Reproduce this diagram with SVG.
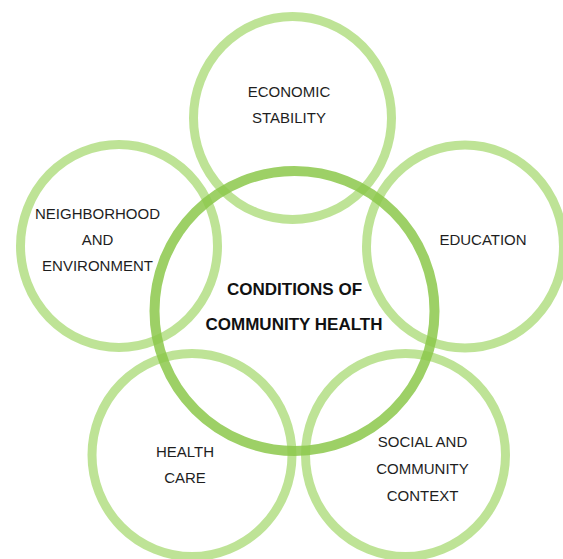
<svg xmlns="http://www.w3.org/2000/svg" width="563" height="559" viewBox="0 0 563 559">
  <style>
    .sat { fill: none; stroke: #92d050; stroke-opacity: 0.6; stroke-width: 9; }
    .core { fill: none; stroke: #8cc84b; stroke-opacity: 0.85; stroke-width: 10; }
    .lbl { font-family: "Liberation Sans", Arial, sans-serif; font-size: 15px; fill: #1e1e1e; text-anchor: middle; }
    .title { font-family: "Liberation Sans", Arial, sans-serif; font-size: 17px; font-weight: bold; fill: #111; text-anchor: middle; }
  </style>
  <rect width="563" height="559" fill="#ffffff"/>
  <g id="connectors"></g>
  <g id="economic-stability">
    <ellipse class="sat" cx="292.5" cy="118" rx="99" ry="101.5"/>
    <text class="lbl" x="289" y="96.5">ECONOMIC</text>
    <text class="lbl" x="289" y="123">STABILITY</text>
  </g>
  <g id="neighborhood-environment">
    <ellipse class="sat" cx="119" cy="246" rx="98.5" ry="101.5"/>
    <text class="lbl" x="97.5" y="219">NEIGHBORHOOD</text>
    <text class="lbl" x="97.5" y="245">AND</text>
    <text class="lbl" x="97.5" y="271">ENVIRONMENT</text>
  </g>
  <g id="education">
    <ellipse class="sat" cx="465" cy="246.5" rx="98.5" ry="101.5"/>
    <text class="lbl" x="483" y="245">EDUCATION</text>
  </g>
  <g id="health-care">
    <ellipse class="sat" cx="192" cy="455" rx="100" ry="101.5"/>
    <text class="lbl" x="185" y="456.5">HEALTH</text>
    <text class="lbl" x="185" y="483">CARE</text>
  </g>
  <g id="social-community-context">
    <ellipse class="sat" cx="405.5" cy="455" rx="100" ry="101.5"/>
    <text class="lbl" x="422.5" y="447">SOCIAL AND</text>
    <text class="lbl" x="422.5" y="474">COMMUNITY</text>
    <text class="lbl" x="422.5" y="500.5">CONTEXT</text>
  </g>
  <g id="conditions-of-community-health">
    <circle class="core" cx="294.5" cy="311" r="140"/>
    <text class="title" x="294.5" y="295">CONDITIONS OF</text>
    <text class="title" x="294" y="330">COMMUNITY HEALTH</text>
  </g>
</svg>
